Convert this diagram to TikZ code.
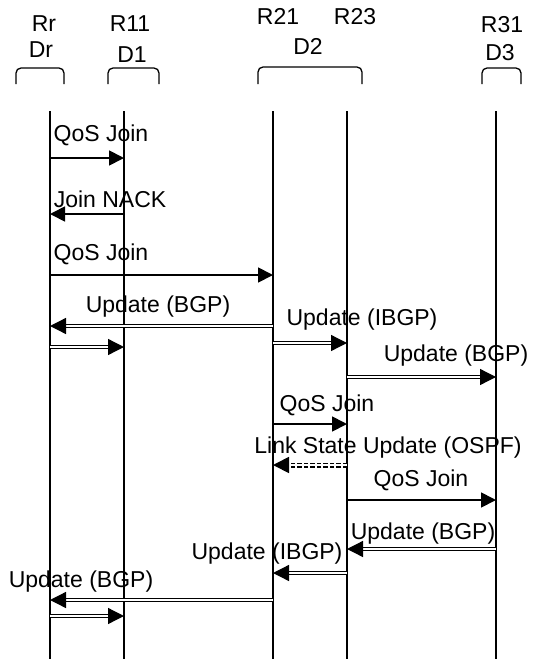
\documentclass[tikz,border=0pt]{standalone}
\usepackage{fontspec}
\setmainfont{Liberation Sans}
\usetikzlibrary{arrows.meta}
\begin{document}
\begin{tikzpicture}[x=1pt,y=-1pt,
  lbl/.style={inner sep=0pt,anchor=base,font=\fontsize{23}{27}\selectfont},
  life/.style={line width=1.8pt},
  brc/.style={line width=1.3pt,rounded corners=5pt},
  msg/.style={line width=1.8pt,-{Triangle[length=15pt,width=15pt]}},
  dmsg/.style={double,double distance=2pt,line width=1.3pt,-{Triangle[length=16pt,width=16pt]}},
  ddmsg/.style={dmsg,line width=1.7pt,double distance=1.6pt,dash pattern=on 4.5pt off 2pt}]
\useasboundingbox (0,0) rectangle (534,659);
% lifeline tops
\coordinate (Rr) at (50,111);
\coordinate (R11) at (124,111);
\coordinate (R21) at (273,111);
\coordinate (R23) at (347,111);
\coordinate (R31) at (496,111);
\foreach \n in {Rr,R11,R21,R23,R31} \draw[life] (\n) -- (\n |- 0,659);
% headers
\node[lbl] (hRr) at (44,31) {Rr};
\node[lbl] (hR11) at (130,31) {R11};
\node[lbl] (hR21) at (278,24) {R21};
\node[lbl] (hR23) at (355,24) {R23};
\node[lbl] (hR31) at (502,32) {R31};
\node[lbl] (hDr) at (41,57) {Dr};
\node[lbl] (hD1) at (132,62) {D1};
\node[lbl] (hD2) at (308,54) {D2};
\node[lbl] (hD3) at (500,60) {D3};
% braces
\draw[brc] (16,84) -- (16,68) -- (64,68) -- (64,84);
\draw[brc] (108,84) -- (108,68) -- (159,68) -- (159,84);
\draw[brc] (258,84) -- (258,67) -- (362,67) -- (362,84);
\draw[brc] (482,84) -- (482,68) -- (521,68) -- (521,84);
% messages
\node[lbl] (m1) at (101,141) {QoS Join};
\draw[msg] (Rr |- 0,158) -- (R11 |- 0,158);
\node[lbl] (m2) at (110,207) {Join NACK};
\draw[msg] (R11 |- 0,214) -- (Rr |- 0,214);
\node[lbl] (m3) at (101,260) {QoS Join};
\draw[msg] (Rr |- 0,275) -- (R21 |- 0,275);
\node[lbl] (m4) at (158,312) {Update (BGP)};
\draw[dmsg] (R21 |- 0,326) -- (Rr |- 0,326);
\draw[dmsg] (Rr |- 0,347) -- (R11 |- 0,347);
\node[lbl] (m5) at (362,325) {Update (IBGP)};
\draw[dmsg] (R21 |- 0,343) -- (R23 |- 0,343);
\node[lbl] (m6) at (456,361) {Update (BGP)};
\draw[dmsg] (R23 |- 0,377) -- (R31 |- 0,377);
\node[lbl] (m7) at (327,411) {QoS Join};
\draw[msg] (R21 |- 0,424) -- (R23 |- 0,424);
\node[lbl] (m8) at (388,453) {Link State Update (OSPF)};
\draw[ddmsg] (R23 |- 0,465) -- (R21 |- 0,465);
\node[lbl] (m9) at (421,486) {QoS Join};
\draw[msg] (R23 |- 0,500) -- (R31 |- 0,500);
\node[lbl] (m10) at (423,539) {Update (BGP)};
\draw[dmsg] (R31 |- 0,549) -- (R23 |- 0,549);
\node[lbl] (m11) at (267,559) {Update (IBGP)};
\draw[dmsg] (R23 |- 0,573) -- (R21 |- 0,573);
\node[lbl] (m12) at (81,587) {Update (BGP)};
\draw[dmsg] (R21 |- 0,600) -- (Rr |- 0,600);
\draw[dmsg] (Rr |- 0,616) -- (R11 |- 0,616);
\end{tikzpicture}
\end{document}
